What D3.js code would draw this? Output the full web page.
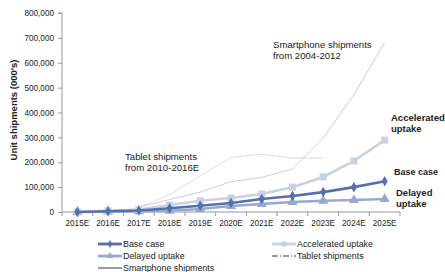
<!DOCTYPE html>
<html>
<head>
<meta charset="utf-8">
<script src="https://cdn.jsdelivr.net/npm/d3@7"></script>
<style>
  body { margin: 0; background: #fff; }
  text { font-family: "Liberation Sans", Arial, sans-serif; fill: #222; }
</style>
</head>
<body>
<div id="vis"></div>
<script>
const years = ['2015E', '2016E', '2017E', '2018E', '2019E', '2020E', '2021E', '2022E', '2023E', '2024E', '2025E'];
const baseCase = [0, 3000, 6000, 15000, 25000, 36000, 52000, 64000, 80000, 100000, 124000];
const accelerated = [0, 5000, 10000, 28000, 45000, 56000, 72000, 100000, 141000, 205000, 289000];
const delayed = [0, 2000, 3000, 5000, 12000, 24000, 32000, 40000, 45000, 48000, 52000];
// smartphone 2004-2012 and tablet 2010-2016E, laid from 2017E
const smartYears = ['2017E', '2018E', '2019E', '2020E', '2021E', '2022E', '2023E', '2024E', '2025E'];
const smartphone = [20000, 50000, 80000, 122000, 139000, 173000, 297000, 472000, 682000];
const tabletYears = ['2017E', '2018E', '2019E', '2020E', '2021E', '2022E', '2023E'];
const tablet = [19000, 70000, 145000, 220000, 232000, 217000, 218000];
const yTicks = [0, 100000, 200000, 300000, 400000, 500000, 600000, 700000, 800000];

const width = 445, height = 272;
const margin = { top: 13, left: 62, right: 45, bottom: 60 };

const svg = d3.select('#vis').append('svg')
    .attr('width', width)
    .attr('height', height);

const x = d3.scaleBand()
    .domain(years)
    .range([margin.left, 400]);

const y = d3.scaleLinear()
    .domain([0, 800000])
    .range([212, 13]);

const cx = d => x(d) + x.bandwidth() / 2;

// y axis
const yAxis = svg.append('g')
    .attr('transform', `translate(${margin.left},0)`)
    .call(d3.axisLeft(y).tickValues(yTicks).tickSize(4).tickPadding(4).tickFormat(d3.format(',')));
yAxis.selectAll('text').style('font-size', '8.2px').attr('fill', '#333');
yAxis.selectAll('line, path').attr('stroke', '#999');
yAxis.select('.domain').attr('d', `M-4,13H0V212`);

// x axis
const xAxis = svg.append('g')
    .attr('transform', 'translate(0,212)');
xAxis.append('line')
    .attr('x1', margin.left).attr('x2', 400)
    .attr('stroke', '#999');
xAxis.selectAll('.tk')
    .data(years.concat(['end']))
    .join('line')
    .attr('class', 'tk')
    .attr('x1', d => d === 'end' ? 400 : x(d))
    .attr('x2', d => d === 'end' ? 400 : x(d))
    .attr('y1', 0).attr('y2', 4)
    .attr('stroke', '#999');
xAxis.selectAll('.lbl')
    .data(years)
    .join('text')
    .attr('class', 'lbl')
    .attr('x', cx)
    .attr('y', 14)
    .attr('text-anchor', 'middle')
    .style('font-size', '8.2px')
    .attr('fill', '#333')
    .text(d => d);

svg.append('text')
    .attr('transform', 'translate(17,110) rotate(-90)')
    .attr('text-anchor', 'middle')
    .style('font-size', '9.5px')
    .style('font-weight', 'bold')
    .text("Unit shipments (000's)");

// reference lines
const line = d3.line().x(d => cx(d[0])).y(d => y(d[1]));

svg.append('path')
    .datum(tabletYears.map((d, i) => [d, tablet[i]]))
    .attr('d', line)
    .attr('fill', 'none')
    .attr('stroke', '#d6d6d6')
    .attr('stroke-width', 0.8);

svg.append('path')
    .datum(smartYears.map((d, i) => [d, smartphone[i]]))
    .attr('d', line)
    .attr('fill', 'none')
    .attr('stroke', '#b8b8b8')
    .attr('stroke-width', 0.7);

// scenario series
const series = [
    { name: 'Delayed uptake', values: delayed, color: '#98a8cf', symbol: d3.symbolTriangle, size: 45 },
    { name: 'Accelerated uptake', values: accelerated, color: '#c9d1e6', symbol: d3.symbolSquare, size: 50 },
    { name: 'Base case', values: baseCase, color: '#5670ad', symbol: d3.symbolDiamond, size: 32 }
];

series.forEach(s => {
    const g = svg.append('g');
    g.append('path')
        .datum(years.map((d, i) => [d, s.values[i]]))
        .attr('d', line)
        .attr('fill', 'none')
        .attr('stroke', s.color)
        .attr('stroke-width', 2.6);
    g.selectAll('path.m')
        .data(years.map((d, i) => [d, s.values[i]]))
        .join('path')
        .attr('class', 'm')
        .attr('transform', d => `translate(${cx(d[0])},${y(d[1])})`)
        .attr('d', d3.symbol().type(s.symbol).size(s.size))
        .attr('fill', s.color);
});

// annotations
const notes = [
    { lines: ['Smartphone shipments', 'from 2004-2012'], x: 273, y: 48, size: 9.6, bold: false },
    { lines: ['Tablet shipments', 'from 2010-2016E'], x: 125, y: 160, size: 9.6, bold: false },
    { lines: ['Accelerated', 'uptake'], x: 391, y: 121, size: 9.5, bold: true },
    { lines: ['Base case'], x: 394, y: 175, size: 9, bold: true },
    { lines: ['Delayed', 'uptake'], x: 396, y: 196, size: 9.5, bold: true }
];
notes.forEach(n => {
    const t = svg.append('text')
        .attr('x', n.x)
        .attr('y', n.y)
        .style('font-size', n.size + 'px')
        .style('font-weight', n.bold ? 'bold' : 'normal');
    n.lines.forEach((l, i) => {
        t.append('tspan').attr('x', n.x).attr('dy', i === 0 ? 0 : 11).text(l);
    });
});

// legend
const legendItems = [
    { name: 'Base case', color: '#5670ad', w: 2.8, symbol: d3.symbolDiamond, size: 18, x: 98, y: 244 },
    { name: 'Delayed uptake', color: '#98a8cf', w: 2.8, symbol: d3.symbolTriangle, size: 22, x: 98, y: 256 },
    { name: 'Smartphone shipments', color: '#222', w: 0.9, x: 98, y: 268 },
    { name: 'Accelerated uptake', color: '#c9d1e6', w: 2.8, symbol: d3.symbolSquare, size: 24, x: 272, y: 244 },
    { name: 'Tablet shipments', color: '#222', w: 0.9, dash: '6,2,1,2', x: 272, y: 256 }
];
const lg = svg.selectAll('.lg')
    .data(legendItems)
    .join('g')
    .attr('class', 'lg')
    .attr('transform', d => `translate(${d.x},${d.y})`);
lg.append('line')
    .attr('x1', 0).attr('x2', 24)
    .attr('stroke', d => d.color)
    .attr('stroke-width', d => d.w)
    .attr('stroke-dasharray', d => d.dash || null);
lg.filter(d => d.symbol)
    .append('path')
    .attr('transform', 'translate(12,0)')
    .attr('d', d => d3.symbol().type(d.symbol).size(d.size)())
    .attr('fill', d => d.color);
lg.append('text')
    .attr('x', 25)
    .attr('y', 3)
    .style('font-size', '8.9px')
    .text(d => d.name);
</script>
</body>
</html>
